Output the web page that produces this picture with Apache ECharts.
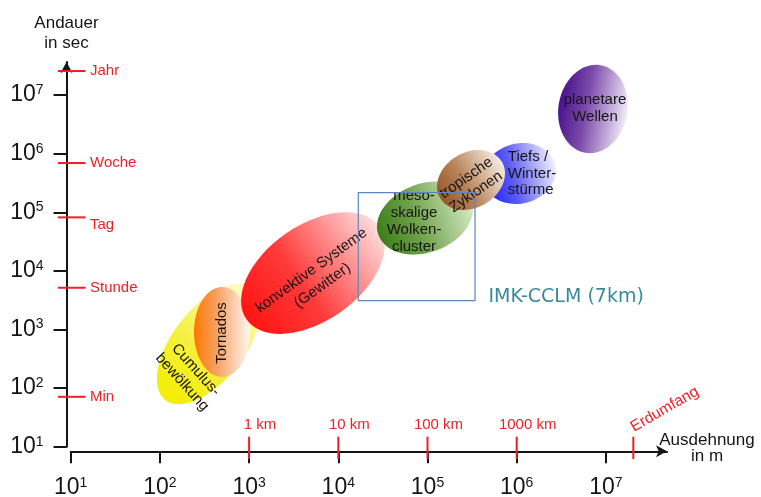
<!DOCTYPE html>
<html><head><meta charset="utf-8">
<script src="https://cdn.jsdelivr.net/npm/echarts@6/dist/echarts.min.js"></script>
<style>html,body{margin:0;padding:0;background:#fff}#c{width:761px;height:497px}</style>
</head><body><div id="c"></div>
<script>
// ---------- data ----------
// decade exponents shown on the axes (10^n)
const xTickExponents = [1, 2, 3, 4, 5, 6, 7];
const yTickExponents = [1, 2, 3, 4, 5, 6, 7];

// atmospheric phenomena, in drawing order
const phenomena = ['Cumulus-\nbewölkung', 'Tornados', 'konvektive Systeme\n(Gewitter)',
  'meso-\nskalige\nWolken-\ncluster', 'Tiefs /\nWinter-\nstürme', 'tropische\nZyklonen', 'planetare\nWellen'];
const centerExtentM = [355, 497, 5200, 93800, 1.07e6, 3.08e5, 7.16e6];      // typical size (m)
const centerDurationS = [566, 906, 9200, 80000, 4.59e5, 3.56e5, 5.8e6];     // typical lifetime (s)
const spanDecadesA = [0.796, 0.314, 0.908, 0.555, 0.414, 0.401, 0.387];     // semi-axis along tilt (decades)
const spanDecadesB = [0.404, 0.504, 0.538, 0.386, 0.336, 0.312, 0.499];     // semi-axis across tilt (decades)
const tiltDeg = [52, 0, 35, 20, 15, 30, -10];

// reference time scales (s)
const timeMarkerLabels = ['Jahr', 'Woche', 'Tag', 'Stunde', 'Min'];
const timeMarkerSeconds = [2.58e7, 6.93e5, 8.2e4, 5.16e3, 71];

// reference length scales (m)
const lengthMarkerLabels = ['1 km', '10 km', '100 km', '1000 km', 'Erdumfang'];
const lengthMarkerMeters = [1e3, 1e4, 1e5, 1e6, 2.03e7];

// model domain
const modelName = 'IMK-CCLM (7km)';
const modelExtentM = [1.675e4, 3.41e5];
const modelDurationS = [3.1e3, 2.16e5];

// ---------- styles ----------
const FONT = "'Liberation Sans', Arial, Helvetica, sans-serif";
const RED = '#ef1f25';
const INK = '#151515';
const X_MIN = 1, X_MAX = 7.685, Y_MIN = 1, Y_MAX = 7.565;
const X_AXIS_OFFSET = 4.6, Y_AXIS_OFFSET = 4.2;

const ellipseStyles = [
  {colors: ['#f2ee00', '#f5f03a', '#fffbcc'], dx: -20, dy: 32, rot: -48, lh: 18.5, align: 'center'},
  {colors: ['#ff7800', '#f6a062', '#fff7f0'], dx: 0, dy: 1, rot: 90, lh: 17, align: 'center'},
  {colors: ['#ff1414', '#ff3a3a', '#ffdede'], dx: 4, dy: 5, rot: 36, lh: 18.5, align: 'center'},
  {colors: ['#3d7d18', '#6fa24a', '#d8eaca'], dx: -11, dy: 3, rot: 0, lh: 17, align: 'center'},
  {colors: ['#1e1eff', '#5c5cf4', '#f0f0ff'], dx: -11.5, dy: 0, rot: 0, lh: 16.5, align: 'left'},
  {colors: ['#985828', '#b8845a', '#f6ece2'], dx: 0, dy: 5, rot: 35, lh: 17, align: 'center'},
  {colors: ['#48128a', '#7c4aaa', '#f2ecf8'], dx: 2, dy: -1, rot: 0, lh: 17, align: 'center'}
];
const timeLabelDy = [0, 0, 8, 0, 0];

// ---------- build ----------
const lg = Math.log10;
const phenomenaData = phenomena.map((n, i) =>
  [lg(centerExtentM[i]), lg(centerDurationS[i]), spanDecadesA[i], spanDecadesB[i], tiltDeg[i]]);
const timeData = timeMarkerSeconds.map(v => [X_MIN, lg(v)]);
const lengthData = lengthMarkerMeters.map(v => [lg(v), Y_MIN]);
const boxData = [[lg(modelExtentM[0]), lg(modelDurationS[0]), lg(modelExtentM[1]), lg(modelDurationS[1])]];

const supRich = {
  b: {fontSize: 23, fontFamily: FONT, color: INK, lineHeight: 24},
  s: {fontSize: 14, fontFamily: FONT, color: INK, lineHeight: 14, verticalAlign: 'top'}
};
const axisLineCfg = {show: true, onZero: false, symbol: ['none', 'arrow'], symbolSize: [9, 11],
  lineStyle: {color: INK, width: 2}};

const chart = echarts.init(document.getElementById('c'));
chart.setOption({
  animation: false,
  backgroundColor: '#fff',
  grid: {left: 70.7, top: 62, width: 596.3, height: 384.7, containLabel: false, outerBoundsMode: 'none'},
  xAxis: {
    type: 'value', min: X_MIN, max: X_MAX, offset: X_AXIS_OFFSET,
    axisLine: axisLineCfg,
    axisTick: {show: true, customValues: xTickExponents, length: 12, lineStyle: {color: INK, width: 2}},
    axisLabel: {customValues: xTickExponents, margin: 24.5, formatter: v => '{b|10}{s|' + v + '}', rich: supRich},
    splitLine: {show: false},
    name: '{t|Ausdehnung}\n{t|in m}\n{g| }', nameLocation: 'end', nameGap: 40,
    nameTextStyle: {fontSize: 17, fontFamily: FONT, color: INK, align: 'center', verticalAlign: 'middle',
      rich: {t: {fontSize: 17, fontFamily: FONT, color: INK, lineHeight: 16, align: 'center'},
             g: {fontSize: 4, lineHeight: 6}}}
  },
  yAxis: {
    type: 'value', min: Y_MIN, max: Y_MAX, offset: Y_AXIS_OFFSET,
    axisLine: axisLineCfg,
    axisTick: {show: true, customValues: yTickExponents, length: 13, lineStyle: {color: INK, width: 2}},
    axisLabel: {customValues: yTickExponents, margin: 23, formatter: v => '{b|10}{s|' + v + '}', rich: supRich},
    splitLine: {show: false},
    name: 'Andauer\nin sec', nameLocation: 'end', nameGap: 9,
    nameTextStyle: {fontSize: 17, fontFamily: FONT, color: INK, lineHeight: 20, align: 'center', verticalAlign: 'bottom'}
  },
  series: [
    {
      type: 'custom', name: 'phenomena', z: 2, silent: true, data: phenomenaData,
      renderItem: function (params, api) {
        const i = params.dataIndex;
        const c = api.coord([api.value(0), api.value(1)]);
        const px = api.size([1, 0])[0];
        const st = ellipseStyles[i];
        const grad = new echarts.graphic.LinearGradient(0, 0, 1, 0, [
          {offset: 0, color: st.colors[0]}, {offset: 0.4, color: st.colors[1]}, {offset: 1, color: st.colors[2]}]);
        return {
          type: 'group',
          children: [
            {type: 'ellipse', x: c[0], y: c[1], rotation: api.value(4) * Math.PI / 180,
              shape: {cx: 0, cy: 0, rx: api.value(2) * px, ry: api.value(3) * px},
              style: {fill: grad}},
            {type: 'text', z2: 10, x: c[0] + st.dx, y: c[1] + st.dy, rotation: st.rot * Math.PI / 180,
              style: {text: phenomena[i], fill: INK, fontSize: 15, fontFamily: FONT, lineHeight: st.lh,
                align: st.align, verticalAlign: 'middle'}}
          ]
        };
      }
    },
    {
      type: 'custom', name: 'model', z: 3, silent: true, data: boxData,
      renderItem: function (params, api) {
        const p0 = api.coord([api.value(0), api.value(3)]);
        const p1 = api.coord([api.value(2), api.value(1)]);
        return {
          type: 'group',
          children: [
            {type: 'rect', shape: {x: p0[0], y: p0[1], width: p1[0] - p0[0], height: p1[1] - p0[1]},
              style: {fill: 'none', stroke: '#5b86c0', lineWidth: 1.2}},
            {type: 'text', x: p1[0] + 13.5, y: p1[1] - 3.5,
              style: {text: modelName, fill: '#3b8a9b', fontSize: 19, fontFamily: "'DejaVu Sans', sans-serif",
                align: 'left', verticalAlign: 'middle'}}
          ]
        };
      }
    },
    {
      type: 'custom', name: 'time', z: 4, silent: true, data: timeData,
      renderItem: function (params, api) {
        const p = api.coord([api.value(0), api.value(1)]);
        const ax = params.coordSys.x - Y_AXIS_OFFSET;
        const i = params.dataIndex;
        return {
          type: 'group',
          children: [
            {type: 'line', shape: {x1: ax - 8.5, y1: p[1], x2: ax + 19, y2: p[1]}, style: {stroke: RED, lineWidth: 2}},
            {type: 'text', x: ax + 23.5, y: p[1] + timeLabelDy[i],
              style: {text: timeMarkerLabels[i], fill: RED, fontSize: 15, fontFamily: FONT, align: 'left', verticalAlign: 'middle'}}
          ]
        };
      }
    },
    {
      type: 'custom', name: 'length', z: 4, silent: true, data: lengthData,
      renderItem: function (params, api) {
        const p = api.coord([api.value(0), api.value(1)]);
        const ay = params.coordSys.y + params.coordSys.height + X_AXIS_OFFSET;
        const i = params.dataIndex;
        const last = i === lengthMarkerLabels.length - 1;
        return {
          type: 'group',
          children: [
            {type: 'line', shape: {x1: p[0], y1: ay - 14.6, x2: p[0], y2: ay + 7.7}, style: {stroke: RED, lineWidth: 2}},
            last
              ? {type: 'text', x: p[0] - 1.5, y: ay - 23, rotation: 30 * Math.PI / 180,
                  style: {text: lengthMarkerLabels[i], fill: RED, fontSize: 15.5, fontFamily: FONT, align: 'left', verticalAlign: 'middle'}}
              : {type: 'text', x: p[0] + 11, y: ay - 26,
                  style: {text: lengthMarkerLabels[i], fill: RED, fontSize: 15, fontFamily: FONT, align: 'center', verticalAlign: 'middle'}}
          ]
        };
      }
    }
  ]
});
</script>
</body></html>
